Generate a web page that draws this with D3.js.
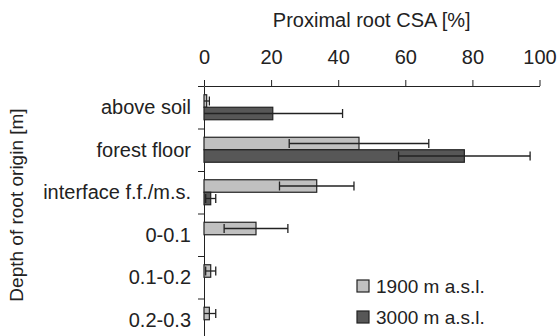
<!DOCTYPE html>
<html>
<head>
<meta charset="utf-8">
<script src="https://cdn.jsdelivr.net/npm/d3@7"></script>
<style>
  body { margin: 0; background: #fff; }
  text { font-family: "Liberation Sans", Arial, sans-serif; fill: #222; }
</style>
</head>
<body>
<svg id="chart" width="560" height="336"></svg>
<script>
// depth classes (y axis), top to bottom
var categories = ["above soil", "forest floor", "interface f.f./m.s.", "0-0.1", "0.1-0.2", "0.2-0.3"];
var seriesNames = ["1900 m a.s.l.", "3000 m a.s.l."];
// proximal root CSA [%] and error
var low     = [0.8, 46.2, 33.6, 15.5, 2.0, 1.6];
var lowErr  = [0.8, 20.8, 11.1, 9.5, 1.5, 1.9];
var high    = [20.5, 77.6, 2.0, 0, 0, 0];
var highErr = [20.8, 19.6, 1.5, 0, 0, 0];
var xTicks  = [0, 20, 40, 60, 80, 100];

var svg = d3.select("#chart");

var margin = {top: 86, left: 204},
    plotRight = 539.5,
    plotBottom = 341;

// scales
var x = d3.scaleLinear().domain([0, 100]).range([margin.left, plotRight]);
var y = d3.scaleBand().domain(categories).range([margin.top, plotBottom]).padding(0);
var ySub = d3.scaleBand().domain(seriesNames).range([0, y.bandwidth()]).paddingInner(0).paddingOuter(0.7);
var color = d3.scaleOrdinal().domain(seriesNames).range(["#c0c0c0", "#575757"]);

// build rows
var rows = [];
categories.forEach(function(c, i) {
  rows.push({cat: c, key: seriesNames[0], v: low[i], e: lowErr[i]});
  rows.push({cat: c, key: seriesNames[1], v: high[i], e: highErr[i]});
});

// top axis
var xAxis = svg.append("g")
    .attr("transform", "translate(0," + margin.top + ")")
    .call(d3.axisTop(x).tickValues(xTicks).tickSize(6).tickPadding(16).tickSizeOuter(0));
xAxis.selectAll("text").style("font-size", "20px");
xAxis.select(".domain").attr("stroke", "#222");
xAxis.selectAll(".tick line").attr("stroke", "#222");

svg.append("text")
    .attr("x", (margin.left + plotRight) / 2)
    .attr("y", 27)
    .attr("text-anchor", "middle")
    .style("font-size", "20px")
    .text("Proximal root CSA [%]");

// left axis: ticks at band boundaries
var yIdx = d3.scaleLinear().domain([0, categories.length]).range([margin.top, plotBottom]);
var yAxis = svg.append("g")
    .attr("transform", "translate(" + margin.left + ",0)")
    .call(d3.axisLeft(yIdx).tickValues(d3.range(0, categories.length + 1)).tickFormat("").tickSize(6).tickSizeOuter(0));
yAxis.select(".domain").attr("stroke", "#222");
yAxis.selectAll(".tick line").attr("stroke", "#222");

// category labels
svg.append("g").selectAll("text")
  .data(categories)
  .enter().append("text")
    .attr("x", 191)
    .attr("y", function(d) { return y(d) + y.bandwidth() / 2; })
    .attr("dy", "0.35em")
    .attr("text-anchor", "end")
    .style("font-size", "20px")
    .text(function(d) { return d; });

svg.append("text")
    .attr("transform", "translate(16,205) rotate(-90)")
    .attr("text-anchor", "middle")
    .attr("dy", "0.35em")
    .style("font-size", "19px")
    .text("Depth of root origin [m]");

// bars
svg.append("g").selectAll("rect")
  .data(rows)
  .enter().append("rect")
    .attr("x", x(0))
    .attr("y", function(d) { return y(d.cat) + ySub(d.key); })
    .attr("width", function(d) { return x(d.v) - x(0); })
    .attr("height", ySub.bandwidth())
    .attr("fill", function(d) { return color(d.key); })
    .attr("stroke", "#222")
    .attr("stroke-width", 1.2);

// error bars
var err = svg.append("g").selectAll("g")
  .data(rows.filter(function(d) { return d.e > 0; }))
  .enter().append("g")
    .attr("stroke", "#222")
    .attr("stroke-width", 1.3);

function cy(d) { return y(d.cat) + ySub(d.key) + ySub.bandwidth() / 2; }

err.append("line")
    .attr("x1", function(d) { return x(Math.max(0, d.v - d.e)); })
    .attr("x2", function(d) { return x(d.v + d.e); })
    .attr("y1", cy).attr("y2", cy);
err.append("line")
    .attr("x1", function(d) { return x(d.v + d.e); })
    .attr("x2", function(d) { return x(d.v + d.e); })
    .attr("y1", function(d) { return cy(d) - 4.5; })
    .attr("y2", function(d) { return cy(d) + 4.5; });
err.filter(function(d) { return d.v - d.e > 0; }).append("line")
    .attr("x1", function(d) { return x(d.v - d.e); })
    .attr("x2", function(d) { return x(d.v - d.e); })
    .attr("y1", function(d) { return cy(d) - 4.5; })
    .attr("y2", function(d) { return cy(d) + 4.5; });

// legend
var legend = svg.append("g").selectAll("g")
  .data(seriesNames)
  .enter().append("g")
    .attr("transform", function(d, i) { return "translate(357," + (280 + i * 31) + ")"; });
legend.append("rect")
    .attr("width", 12).attr("height", 12)
    .attr("fill", function(d) { return color(d); })
    .attr("stroke", "#222")
    .attr("stroke-width", 1.2);
legend.append("text")
    .attr("x", 19)
    .attr("y", 6)
    .attr("dy", "0.35em")
    .style("font-size", "19px")
    .text(function(d) { return d; });
</script>
</body>
</html>
